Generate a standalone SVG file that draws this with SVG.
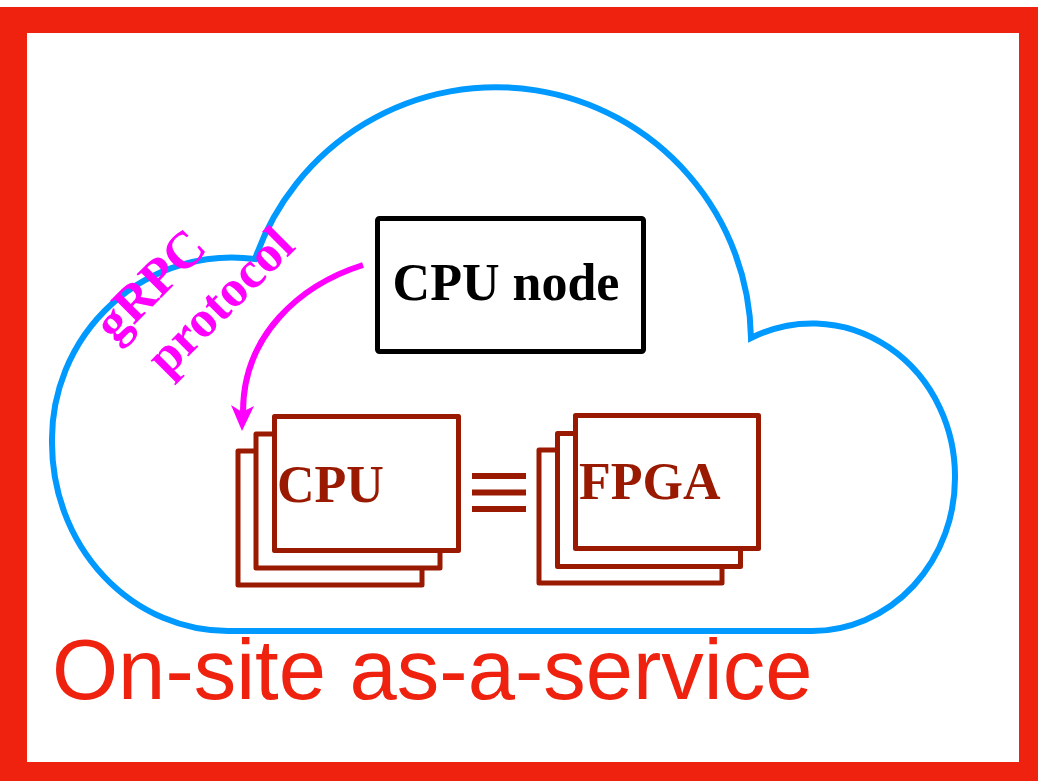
<svg xmlns="http://www.w3.org/2000/svg" width="1038" height="781" viewBox="0 0 1038 781">
<style>
.chip{fill:#fff;stroke:#991A00;stroke-width:5;stroke-linejoin:round}
.chipt{font-family:"Liberation Serif",serif;font-weight:bold;font-size:52px;fill:#991A00}
.grpc{font-family:"Liberation Serif",serif;font-weight:bold;font-size:52px;fill:#FF00FF;text-anchor:middle}
</style>
<rect x="0" y="0" width="1038" height="781" fill="#fff"/>
<g id="frame">
<path d="M0,7 H1038 V781 H0 Z M27,33 V762 H1019 V33 Z" fill="#EE220F" fill-rule="evenodd"/>
</g>
<g id="cloud">
<path d="M228,631 A176,188 0 0 1 52,443 A180,182 0 0 1 255,259 A255,255 0 0 1 751,338 A143,153 0 0 1 955,477 A143,153 0 0 1 812,631 Z" fill="none" stroke="#0099FF" stroke-width="6" stroke-linejoin="miter"/>
</g>
<g id="cpu-node">
<rect x="377.5" y="218.5" width="266" height="133" rx="2" fill="#fff" stroke="#000" stroke-width="5"/>
<text x="506" y="300" text-anchor="middle" font-family="Liberation Serif, serif" font-weight="bold" font-size="52" fill="#000">CPU node</text>
</g>
<g id="cpu-stack">
<rect class="chip" x="238" y="451" width="184" height="134"/>
<rect class="chip" x="256" y="434" width="184" height="134"/>
<rect class="chip" x="274.5" y="416.5" width="184" height="134"/>
<text class="chipt" x="277" y="502">CPU</text>
</g>
<g id="equiv">
<path d="M472,476 H526 M472,492.5 H526 M472,509 H526" stroke="#991A00" stroke-width="6"/>
</g>
<g id="fpga-stack">
<rect class="chip" x="539" y="450" width="183" height="133"/>
<rect class="chip" x="557.5" y="433.5" width="183" height="133"/>
<rect class="chip" x="575.5" y="415.5" width="183" height="133"/>
<text class="chipt" x="579" y="499">FPGA</text>
</g>
<g id="connectors">
<path d="M363,265 C300,285 243,335 243,412" fill="none" stroke="#FF00FF" stroke-width="6"/>
<polygon points="242,431 231,405 242,412 254,406" fill="#FF00FF"/>
</g>
<g id="grpc-label">
<text class="grpc" transform="translate(150,285) rotate(-45)" x="0" y="17">gRPC</text>
<text class="grpc" transform="translate(222,303) rotate(-45)" x="0" y="14">protocol</text>
</g>
<g id="title">
<text x="52" y="699" font-family="Liberation Sans, Arial, sans-serif" font-size="85" fill="#EE220F">On-site as-a-service</text>
</g>
</svg>
